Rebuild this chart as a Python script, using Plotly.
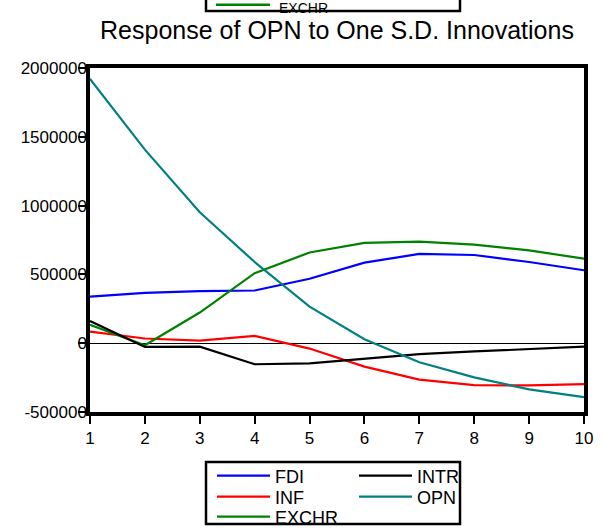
import plotly.graph_objects as go

# ---- data ----
periods = [1, 2, 3, 4, 5, 6, 7, 8, 9, 10]
fdi = [339000, 366000, 378000, 383000, 468000, 585000, 649000, 641000, 590000, 530000]
inf = [84000, 34000, 19000, 53000, -39000, -170000, -265000, -304000, -307000, -297000]
exchr = [133000, -15000, 223000, 509000, 659000, 729000, 738000, 716000, 675000, 614000]
intr = [162000, -27000, -25000, -153000, -146000, -112000, -79000, -60000, -42000, -25000]
opn = [1921000, 1407000, 951000, 590000, 266000, 29000, -138000, -248000, -336000, -392000]

series_names = ["FDI", "INF", "EXCHR", "INTR", "OPN"]
series_values = [fdi, inf, exchr, intr, opn]
series_colors = ["#0000FF", "#FF0000", "#008000", "#000000", "#008080"]
series_legend = ["legend", "legend2", "legend3", "legend", "legend2"]

y_tickvals = [-500000, 0, 500000, 1000000, 1500000, 2000000]
y_ticktext = ["-500000", "0", "500000", "1000000", "1500000", "2000000"]
x_tickvals = periods
x_ticktext = [str(p) for p in periods]

title_text = "Response of OPN to One S.D. Innovations"

# ---- geometry (pixels) ----
W, H = 605, 529
L, R, T, B = 90, 21, 68, 117
PW = W - L - R
PH = H - T - B
FONT = "Arial, Liberation Sans, sans-serif"


def px_x(x):
    return (x - L) / PW


def px_y(y):
    return (H - B - y) / PH


fig = go.Figure()
for name, vals, col, lg in zip(series_names, series_values, series_colors, series_legend):
    fig.add_trace(go.Scatter(
        x=periods, y=vals, mode="lines", name=name,
        line=dict(color=col, width=2.2), legend=lg,
    ))

legend_common = dict(
    orientation="h", xref="paper", yref="paper", xanchor="left", yanchor="middle",
    font=dict(family=FONT, size=18, color="black"),
    bgcolor="rgba(0,0,0,0)", borderwidth=0, itemwidth=53,
    entrywidth=74, entrywidthmode="pixels", traceorder="normal",
)

fig.update_layout(
    width=W, height=H,
    margin=dict(l=L, r=R, t=T, b=B, pad=0, autoexpand=False),
    paper_bgcolor="white", plot_bgcolor="white",
    font=dict(family=FONT, size=17, color="black"),
    title=dict(text=title_text, x=337 / W, xref="container", xanchor="center",
               y=1 - 30 / H, yref="container", yanchor="middle",
               font=dict(family=FONT, size=25, color="black")),
    xaxis=dict(range=[1, 10], tickvals=x_tickvals, ticktext=x_ticktext,
               showgrid=False, zeroline=False, showline=True, mirror=True,
               linecolor="black", linewidth=3.5, ticks="outside", ticklen=8,
               tickwidth=2, tickcolor="black",
               tickfont=dict(family=FONT, size=17, color="black")),
    yaxis=dict(range=[-500000, 2000000], tickvals=y_tickvals, ticktext=y_ticktext,
               showgrid=False, zeroline=True, zerolinecolor="black", zerolinewidth=1,
               showline=True, mirror=True, linecolor="black", linewidth=3.5,
               ticks="outside", ticklen=8, tickwidth=2, tickcolor="black",
               tickfont=dict(family=FONT, size=17, color="black"),
               ticklabelstandoff=-12),
    legend=dict(x=px_x(212), y=px_y(476), **legend_common),
    legend2=dict(x=px_x(212), y=px_y(497), **legend_common),
    legend3=dict(x=px_x(212), y=px_y(517), **legend_common),
    showlegend=True,
)

# legend frame at bottom
fig.add_shape(type="rect", xref="paper", yref="paper",
              x0=px_x(206), x1=px_x(460), y0=px_y(524), y1=px_y(462),
              line=dict(color="black", width=2.5), fillcolor="rgba(0,0,0,0)", layer="above")

# legend remnant at the top of the picture
fig.add_shape(type="rect", xref="paper", yref="paper",
              x0=px_x(206), x1=px_x(460), y0=px_y(11), y1=px_y(-20),
              line=dict(color="black", width=2.5), fillcolor="rgba(0,0,0,0)", layer="above")
fig.add_shape(type="line", xref="paper", yref="paper",
              x0=px_x(216), x1=px_x(270), y0=px_y(4.7), y1=px_y(4.7),
              line=dict(color="#008000", width=2.5))
fig.add_annotation(text="EXCHR", xref="paper", yref="paper", x=px_x(277), y=px_y(8),
                   xanchor="left", yanchor="middle", showarrow=False,
                   font=dict(family=FONT, size=14, color="black"))

fig.write_html("out.html")
